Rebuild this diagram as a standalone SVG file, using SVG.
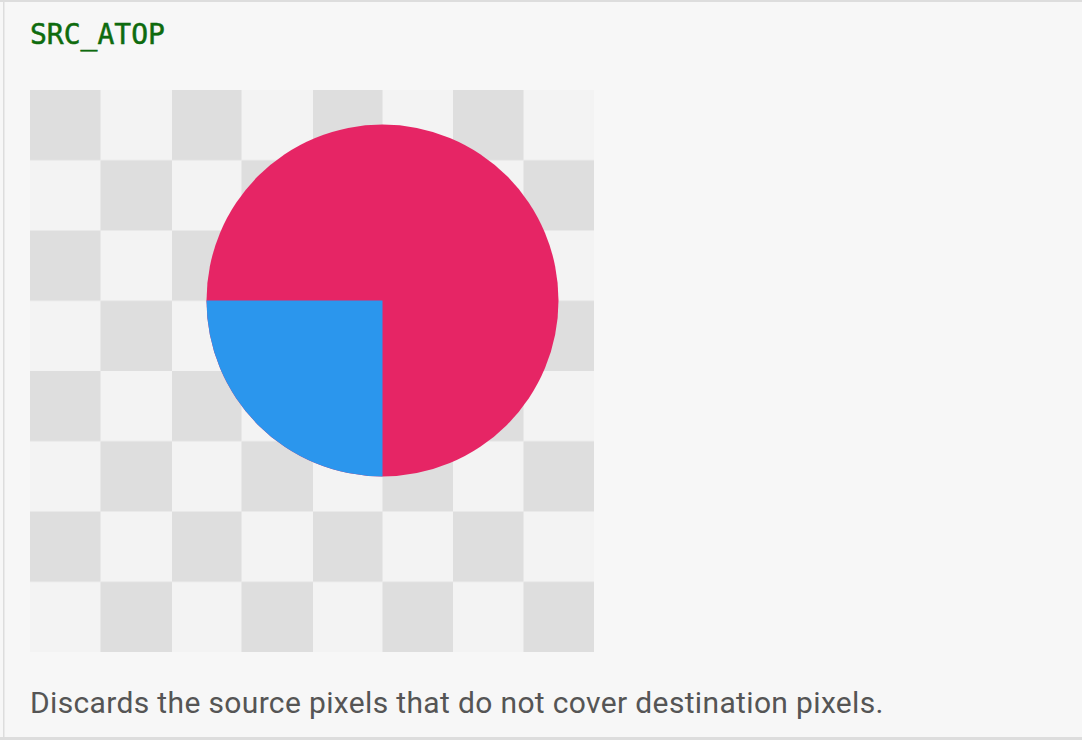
<svg xmlns="http://www.w3.org/2000/svg" width="1082" height="740" viewBox="0 0 1082 740">
  <defs>
    <pattern id="checker" x="30" y="90" width="141" height="140.5" patternUnits="userSpaceOnUse">
      <rect width="141" height="140.5" fill="#f3f3f3"/>
      <rect x="0" y="0" width="70.5" height="70.25" fill="#dedede"/>
      <rect x="70.5" y="70.25" width="70.5" height="70.25" fill="#dedede"/>
    </pattern>
    <clipPath id="bl">
      <rect x="200" y="300.5" width="182.5" height="190"/>
    </clipPath>
  </defs>
  <style>
    .title { font-family: "DejaVu Sans Mono", "Liberation Mono", monospace; font-size: 28px; fill: #0e6b0e; stroke: #0e6b0e; stroke-width: 0.5px; }
    .desc { font-family: Roboto, "Liberation Sans", sans-serif; font-size: 30px; letter-spacing: 0.35px; fill: #555555; }
    .frame { fill: #dddddd; }
  </style>
  <rect width="1082" height="740" fill="#f7f7f7"/>
  <rect class="frame" x="0" y="0" width="1082" height="2"/>
  <rect class="frame" x="3" y="0" width="1.5" height="740"/>
  <rect class="frame" x="0" y="737" width="1082" height="3"/>
  <g id="title"><text class="title" x="30" y="44">SRC_ATOP</text></g>
  <g id="canvas">
    <rect x="30" y="90" width="564" height="562" fill="url(#checker)"/>
    <circle cx="382.5" cy="300.5" r="176" fill="#e62565"/>
    <circle cx="382.5" cy="300.5" r="176" fill="#2b96ed" clip-path="url(#bl)"/>
  </g>
  <g id="caption"><text class="desc" x="30" y="713">Discards the source pixels that do not cover destination pixels.</text></g>
</svg>
